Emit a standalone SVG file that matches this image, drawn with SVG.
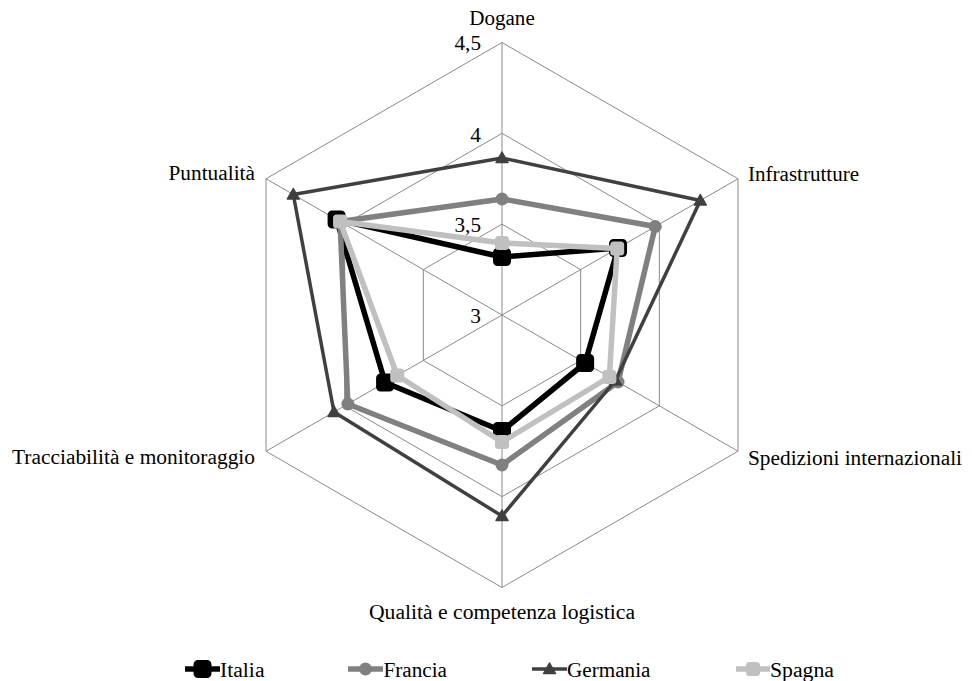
<svg xmlns="http://www.w3.org/2000/svg" xmlns:xlink="http://www.w3.org/1999/xlink" width="972" height="681" viewBox="0 0 972 681">
<style>
.t{font-family:'Liberation Serif','DejaVu Serif','Noto Serif','Times New Roman',serif;font-size:21.3px;fill:#000}
.grid{fill:none;stroke:#8a8a8a;stroke-width:1}
.s{fill:none;stroke-linejoin:round;stroke-linecap:round}
.it{stroke:#000;stroke-width:5.5}
.fr{stroke:#808080;stroke-width:5.5}
.ge{stroke:#404040;stroke-width:3.5}
.sp{stroke:#c0c0c0;stroke-width:5.5}
.end{text-anchor:end}
.mid{text-anchor:middle}
</style>
<defs>
<rect id="mIt" x="-7.5" y="-7.5" width="15" height="15" rx="3" fill="#000" stroke="#000" stroke-width="3"/>
<circle id="mFr" r="6.5" fill="#808080"/>
<path id="mGe" d="M0,-6 L6,4.5 L-6,4.5 Z" fill="#404040" stroke="#404040" stroke-width="1.5" stroke-linejoin="round"/>
<rect id="mSp" x="-6" y="-6" width="12" height="12" rx="2.5" fill="#c0c0c0" stroke="#c0c0c0" stroke-width="2"/>
</defs>
<rect width="972" height="681" fill="#fff"/>
<g id="grid">
<polygon class="grid" points="502,224.17 580.66,269.58 580.66,360.42 502,405.83 423.34,360.42 423.34,269.58"/>
<polygon class="grid" points="502,133.33 659.33,224.17 659.33,405.83 502,496.67 344.67,405.83 344.67,224.17"/>
<polygon class="grid" points="502,42.5 737.99,178.75 737.99,451.25 502,587.5 266.01,451.25 266.01,178.75"/>
<path class="grid" d="M502,315L502,42.5M502,315L737.99,178.75M502,315L737.99,451.25M502,315L502,587.5M502,315L266.01,451.25M502,315L266.01,178.75"/>
</g>
<g id="ticks">
<text class="t end" x="481" y="50" textLength="26.5" lengthAdjust="spacingAndGlyphs">4,5</text>
<text class="t end" x="481" y="141.5">4</text>
<text class="t end" x="481" y="232" textLength="26.5" lengthAdjust="spacingAndGlyphs">3,5</text>
<text class="t end" x="481" y="323">3</text>
</g>
<g id="axis-labels">
<text id="lbl-dogane" class="t mid" x="502" y="25" textLength="65.5" lengthAdjust="spacingAndGlyphs">Dogane</text>
<text id="lbl-infra" class="t" x="748" y="180.5" textLength="111" lengthAdjust="spacingAndGlyphs">Infrastrutture</text>
<text id="lbl-sped" class="t" x="748" y="465" textLength="214" lengthAdjust="spacingAndGlyphs">Spedizioni internazionali</text>
<text id="lbl-qual" class="t mid" x="502" y="619" textLength="266" lengthAdjust="spacingAndGlyphs">Qualità e competenza logistica</text>
<text id="lbl-tracc" class="t end" x="255" y="464" textLength="243" lengthAdjust="spacingAndGlyphs">Tracciabilità e monitoraggio</text>
<text id="lbl-punt" class="t end" x="255" y="180" textLength="86.5" lengthAdjust="spacingAndGlyphs">Puntualità</text>
</g>
<g id="connectors">
<g id="series-italia">
<polygon class="s it" points="502,257 618.04,248 585.14,363 502,431 385.09,382.5 336.59,219.5"/>
<use xlink:href="#mIt" x="502" y="257"/><use xlink:href="#mIt" x="618.04" y="248"/><use xlink:href="#mIt" x="585.14" y="363"/><use xlink:href="#mIt" x="502" y="431"/><use xlink:href="#mIt" x="385.09" y="382.5"/><use xlink:href="#mIt" x="336.59" y="219.5"/>
</g>
<g id="series-francia">
<polygon class="s fr" points="502,199 655.28,226.5 618.04,382 502,465 347.85,404 340.06,221.5"/>
<use xlink:href="#mFr" x="502" y="199"/><use xlink:href="#mFr" x="655.28" y="226.5"/><use xlink:href="#mFr" x="618.04" y="382"/><use xlink:href="#mFr" x="502" y="465"/><use xlink:href="#mFr" x="347.85" y="404"/><use xlink:href="#mFr" x="340.06" y="221.5"/>
</g>
<g id="series-germania">
<polygon class="s ge" points="502,158 700.31,200.5 615.45,380.5 502,516 334,412 293.29,194.5"/>
<use xlink:href="#mGe" x="502" y="158"/><use xlink:href="#mGe" x="700.31" y="200.5"/><use xlink:href="#mGe" x="615.45" y="380.5"/><use xlink:href="#mGe" x="502" y="516"/><use xlink:href="#mGe" x="334" y="412"/><use xlink:href="#mGe" x="293.29" y="194.5"/>
</g>
<g id="series-spagna">
<polygon class="s sp" points="502,243 617.18,248.5 609.38,377 502,442 397.21,375.5 340.06,221.5"/>
<use xlink:href="#mSp" x="502" y="243"/><use xlink:href="#mSp" x="617.18" y="248.5"/><use xlink:href="#mSp" x="609.38" y="377"/><use xlink:href="#mSp" x="502" y="442"/><use xlink:href="#mSp" x="397.21" y="375.5"/><use xlink:href="#mSp" x="340.06" y="221.5"/>
</g>
</g>
<g id="legend">
<g id="leg-italia"><line class="it" x1="185" y1="669" x2="220" y2="669"/><use xlink:href="#mIt" x="202.5" y="669"/><text class="t" x="220" y="677" textLength="44.5" lengthAdjust="spacingAndGlyphs">Italia</text></g>
<g id="leg-francia"><line class="fr" x1="348" y1="669" x2="383" y2="669"/><use xlink:href="#mFr" x="365.5" y="669"/><text class="t" x="383.5" y="677" textLength="63.5" lengthAdjust="spacingAndGlyphs">Francia</text></g>
<g id="leg-germania"><line class="ge" x1="532" y1="669" x2="567" y2="669"/><use xlink:href="#mGe" x="549.5" y="669"/><text class="t" x="567" y="677" textLength="83.5" lengthAdjust="spacingAndGlyphs">Germania</text></g>
<g id="leg-spagna"><line class="sp" x1="736" y1="669" x2="770" y2="669"/><use xlink:href="#mSp" x="753" y="669"/><text class="t" x="770" y="677" textLength="64" lengthAdjust="spacingAndGlyphs">Spagna</text></g>
</g>
</svg>
